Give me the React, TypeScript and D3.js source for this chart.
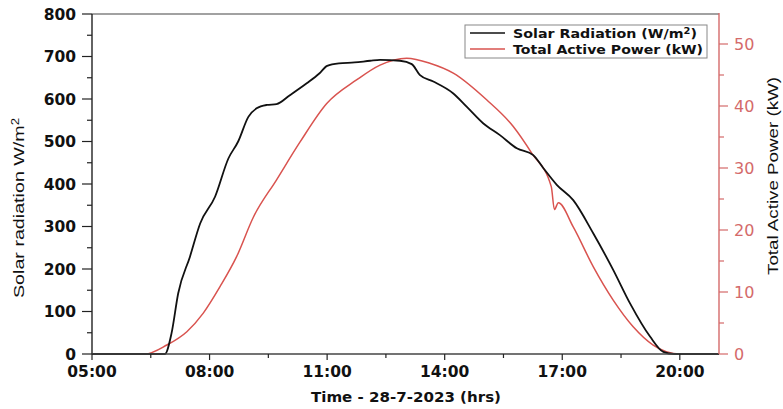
import React from 'react';
import * as d3 from 'd3';

// hours of day (decimal) and readings
const solarTime = [5, 6.86, 7.03, 7.2, 7.5, 7.76, 8.14, 8.48, 8.73, 8.99, 9.2, 9.46, 9.71, 10.05, 10.48, 10.8, 11.0, 11.3, 11.7, 12.1, 12.35, 12.86, 13.16, 13.37, 13.71, 14.22, 14.56, 14.98, 15.41, 15.84, 16.26, 16.52, 16.86, 17.28, 17.79, 18.3, 18.73, 19.24, 19.58, 19.85, 21];
const solar = [0, 0, 49, 143, 229, 307, 370, 460, 500, 558, 578, 586, 588, 609, 637, 660, 678, 684, 686, 690, 692, 690, 682, 656, 641, 613, 582, 543, 515, 484, 468, 437, 398, 362, 284, 198, 119, 41, 5, 0, 0];

const powerTime = [5, 6.35, 6.91, 7.42, 7.84, 8.27, 8.69, 9.12, 9.71, 10.31, 10.99, 11.75, 12.35, 13.03, 13.62, 14.22, 15.07, 15.75, 16.22, 16.72, 16.8, 16.9, 17.28, 17.79, 18.3, 18.81, 19.32, 20.0, 21];
const power = [0, 0, 1.45, 3.6, 6.6, 10.9, 15.7, 22.1, 28.1, 34.2, 40.4, 44.2, 46.6, 47.7, 46.9, 45.3, 41.0, 36.7, 32.4, 27.0, 23.3, 24.4, 20.5, 14.1, 8.7, 4.4, 1.45, 0, 0];

const timeTicks = [5, 8, 11, 14, 17, 20];
const solarTicks = [0, 100, 200, 300, 400, 500, 600, 700, 800];
const powerTicks = [0, 10, 20, 30, 40, 50];

const legendLabels = ['Solar Radiation (W/m', 'Total Active Power (kW)'];

const RED = '#d9534f';
const AXIS_RED = '#d46a6a';
const BOLD = '"DejaVu Sans", sans-serif';

export default function App() {
  const x = d3.scaleLinear().domain([5, 21]).range([92, 719]);
  const yL = d3.scaleLinear().domain([0, 800]).range([354, 14]);
  const yR = d3.scaleLinear().domain([0, 55]).range([354, 13]);

  const solarLine = d3.line<number>()
    .x((_, i) => x(solarTime[i]))
    .y(d => yL(d))
    .curve(d3.curveMonotoneX);
  const powerLine = d3.line<number>()
    .x((_, i) => x(powerTime[i]))
    .y(d => yR(d))
    .curve(d3.curveMonotoneX);

  const fmt = (h: number) => `${String(h).padStart(2, '0')}:00`;
  const minorX = d3.range(6.5, 21, 3);
  const minorL = d3.range(50, 800, 100);
  const minorR = d3.range(5, 55, 10);

  return (
    <svg width={783} height={409} style={{ position: 'absolute', left: 0, top: 0, background: '#fff' }}>
      {/* frame top */}
      <line x1={92} x2={719} y1={14} y2={14} stroke="#444" strokeWidth={1.2} />

      {/* curves */}
      <path d={powerLine(power) || ''} fill="none" stroke={RED} strokeWidth={1.5} />
      <path d={solarLine(solar) || ''} fill="none" stroke="#111" strokeWidth={1.8} />

      {/* left axis */}
      <line x1={92} x2={92} y1={14} y2={354} stroke="#222" strokeWidth={1.4} />
      {solarTicks.map(t => (
        <g key={t}>
          <line x1={82} x2={92} y1={yL(t)} y2={yL(t)} stroke="#222" strokeWidth={1.2} />
          <text x={76} y={yL(t)} dy="0.36em" textAnchor="end" fontFamily={BOLD} fontWeight="bold" fontSize={15.5} fill="#111">{t}</text>
        </g>
      ))}
      {minorL.map(t => (
        <line key={t} x1={87} x2={92} y1={yL(t)} y2={yL(t)} stroke="#222" strokeWidth={1.2} />
      ))}

      {/* bottom axis */}
      <line x1={92} x2={719} y1={354} y2={354} stroke="#444" strokeWidth={1.4} />
      {timeTicks.map(t => (
        <g key={t}>
          <line x1={x(t)} x2={x(t)} y1={354} y2={360} stroke="#222" strokeWidth={1.2} />
          <text x={x(t)} y={377} textAnchor="middle" fontFamily={BOLD} fontWeight="bold" fontSize={15.5} fill="#111">{fmt(t)}</text>
        </g>
      ))}
      {minorX.map(t => (
        <line key={t} x1={x(t)} x2={x(t)} y1={354} y2={358} stroke="#222" strokeWidth={1.2} />
      ))}
      <text x={406} y={402} textAnchor="middle" fontFamily={BOLD} fontWeight="bold" fontSize={14} fill="#111" textLength={190} lengthAdjust="spacingAndGlyphs">Time - 28-7-2023 (hrs)</text>

      {/* right axis */}
      <line x1={719} x2={719} y1={13} y2={354} stroke={AXIS_RED} strokeWidth={1.4} />
      {powerTicks.map(t => (
        <g key={t}>
          <line x1={719} x2={728} y1={yR(t)} y2={yR(t)} stroke={AXIS_RED} strokeWidth={1.2} />
          <text x={734} y={yR(t)} dy="0.36em" fontFamily={BOLD} fontSize={16} fill={AXIS_RED}>{t}</text>
        </g>
      ))}
      {minorR.map(t => (
        <line key={t} x1={719} x2={724} y1={yR(t)} y2={yR(t)} stroke={AXIS_RED} strokeWidth={1.2} />
      ))}

      {/* axis titles */}
      <text transform="translate(24,208) rotate(-90)" textAnchor="middle" fontFamily="Liberation Sans, Arial, sans-serif" fontSize={15} fill="#111" textLength={180} lengthAdjust="spacingAndGlyphs">
        Solar radiation W/m<tspan dy={-5} fontSize={10}>2</tspan>
      </text>
      <text transform="translate(778,176) rotate(-90)" textAnchor="middle" fontFamily="Liberation Sans, Arial, sans-serif" fontSize={15} fill="#111" textLength={198} lengthAdjust="spacingAndGlyphs">
        Total Active Power (kW)
      </text>

      {/* legend */}
      <rect x={465} y={25} width={242} height={33} fill="#fff" stroke="#888" strokeWidth={1} />
      <line x1={470} x2={505} y1={33} y2={33} stroke="#111" strokeWidth={1.6} />
      <line x1={470} x2={505} y1={49} y2={49} stroke={RED} strokeWidth={1.6} />
      <text x={513} y={33} dy="0.36em" fontFamily={BOLD} fontWeight="bold" fontSize={13} fill="#111" textLength={184} lengthAdjust="spacingAndGlyphs">
        {legendLabels[0]}<tspan dy={-4} fontSize={9}>2</tspan><tspan dy={4}>)</tspan>
      </text>
      <text x={513} y={49} dy="0.36em" fontFamily={BOLD} fontWeight="bold" fontSize={13} fill="#111" textLength={190} lengthAdjust="spacingAndGlyphs">{legendLabels[1]}</text>
    </svg>
  );
}
